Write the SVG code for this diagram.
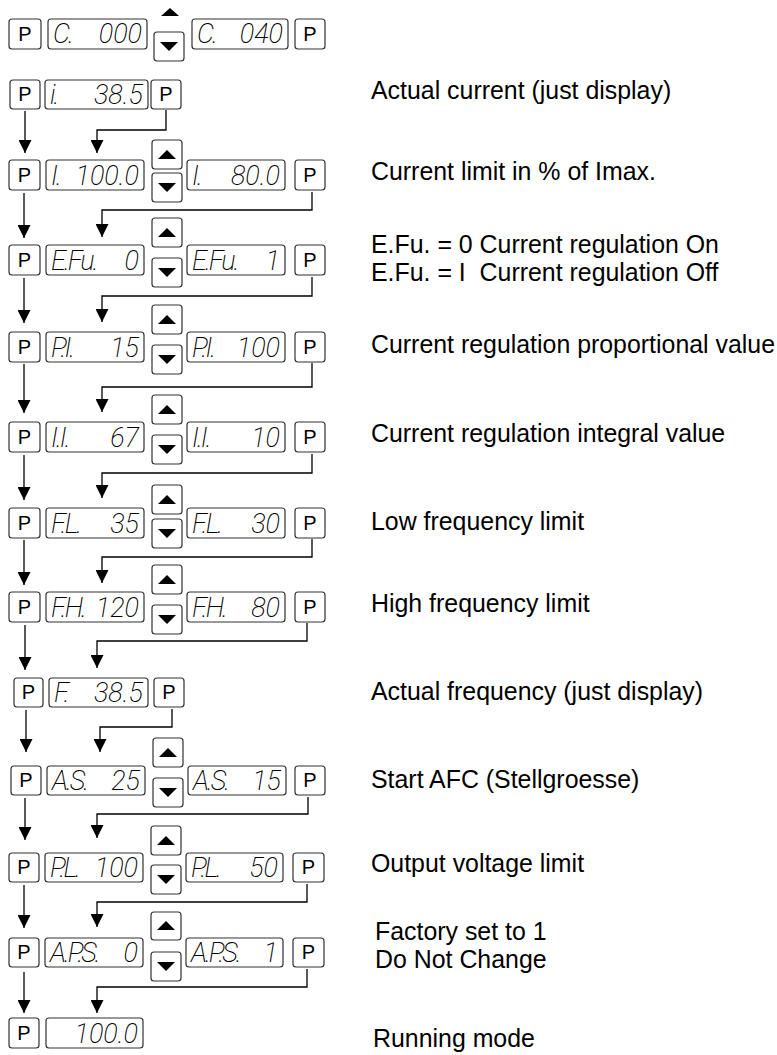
<svg xmlns="http://www.w3.org/2000/svg" width="777" height="1055" viewBox="0 0 777 1055">
<style>
.box{fill:#fff;stroke:#333;stroke-width:1.2}
.pt{font-family:"Liberation Sans",Arial,sans-serif;font-size:20px;text-anchor:middle;fill:#000}
.seg{font-family:Roboto,Inter,"Liberation Sans",sans-serif;font-weight:200;font-style:italic;font-size:27px;letter-spacing:-2px;fill:#000}
.end{text-anchor:end;letter-spacing:0}
.lbl{font-family:"Liberation Sans",Arial,sans-serif;font-size:24.9px;fill:#000;white-space:pre}
.conn{fill:none;stroke:#000;stroke-width:1.3}
.tri{fill:#000}
</style>
<defs>
<marker id="arr" markerUnits="userSpaceOnUse" markerWidth="13" markerHeight="13" refX="13" refY="6.5" orient="auto">
<path d="M0,0 L13,6.5 L0,13 z" fill="#000"/>
</marker>
</defs>

<!-- Row 1 -->
<g id="r1-p1"><rect class="box" x="9" y="19" width="32" height="30" rx="3"/><text class="pt" x="25" y="41">P</text></g>
<g id="r1-d1"><rect class="box" x="48" y="19" width="99" height="30" rx="3"/><text class="seg" x="53" y="43">C.</text><text class="seg end" x="142" y="43">000</text></g>
<g id="r1-up"><polygon class="tri" points="161,16 179,16 170,8"/></g>
<g id="r1-down"><rect class="box" x="154" y="32" width="30" height="29" rx="3"/><polygon class="tri" points="160,42 178,42 169,51"/></g>
<g id="r1-d2"><rect class="box" x="192" y="19" width="96" height="30" rx="3"/><text class="seg" x="197" y="43">C.</text><text class="seg end" x="283" y="43">040</text></g>
<g id="r1-p2"><rect class="box" x="295" y="19" width="30" height="30" rx="3"/><text class="pt" x="310" y="41">P</text></g>

<!-- Row 2 -->
<g id="r2-p1"><rect class="box" x="10" y="80" width="30" height="29" rx="3"/><text class="pt" x="25" y="101">P</text></g>
<g id="r2-d1"><rect class="box" x="45" y="80" width="103" height="29" rx="3"/><text class="seg" x="50" y="104">i.</text><text class="seg end" x="143" y="104">38.5</text></g>
<g id="r2-p2"><rect class="box" x="151" y="80" width="30" height="29" rx="3"/><text class="pt" x="166" y="101">P</text></g>
<g id="r2-label"><text class="lbl" x="371" y="99">Actual current (just display)</text></g>

<!-- Row 3 -->
<g id="r3-p1"><rect class="box" x="9" y="160" width="31" height="30" rx="3"/><text class="pt" x="24.5" y="182">P</text></g>
<g id="r3-d1"><rect class="box" x="46" y="160" width="98" height="30" rx="3"/><text class="seg" x="51" y="185">I.</text><text class="seg end" x="139" y="185">100.0</text></g>
<g id="r3-up"><rect class="box" x="152" y="140" width="30" height="29" rx="3"/><polygon class="tri" points="158,159 176,159 167,150"/></g>
<g id="r3-down"><rect class="box" x="152" y="173" width="30" height="29" rx="3"/><polygon class="tri" points="158,183 176,183 167,192"/></g>
<g id="r3-d2"><rect class="box" x="187" y="160" width="98" height="30" rx="3"/><text class="seg" x="192" y="185">I.</text><text class="seg end" x="280" y="185">80.0</text></g>
<g id="r3-p2"><rect class="box" x="295" y="160" width="30" height="30" rx="3"/><text class="pt" x="310" y="182">P</text></g>
<g id="r3-label"><text class="lbl" x="371" y="180">Current limit in % of Imax.</text></g>

<!-- Row 4 -->
<g id="r4-p1"><rect class="box" x="9" y="245" width="31" height="30" rx="3"/><text class="pt" x="24.5" y="267">P</text></g>
<g id="r4-d1"><rect class="box" x="46" y="245" width="98" height="30" rx="3"/><text class="seg" x="51" y="270">E.Fu.</text><text class="seg end" x="139" y="270">0</text></g>
<g id="r4-up"><rect class="box" x="152" y="218" width="30" height="29" rx="3"/><polygon class="tri" points="158,237 176,237 167,228"/></g>
<g id="r4-down"><rect class="box" x="152" y="258" width="30" height="29" rx="3"/><polygon class="tri" points="158,268 176,268 167,277"/></g>
<g id="r4-d2"><rect class="box" x="187" y="245" width="98" height="30" rx="3"/><text class="seg" x="192" y="270">E.Fu.</text><text class="seg end" x="280" y="270">1</text></g>
<g id="r4-p2"><rect class="box" x="295" y="245" width="30" height="30" rx="3"/><text class="pt" x="310" y="267">P</text></g>
<g id="r4-label"><text class="lbl" x="371" y="253">E.Fu. = 0 Current regulation On</text><text class="lbl" x="371" y="281">E.Fu. = I  Current regulation Off</text></g>

<!-- Row 5 -->
<g id="r5-p1"><rect class="box" x="9" y="332" width="31" height="30" rx="3"/><text class="pt" x="24.5" y="354">P</text></g>
<g id="r5-d1"><rect class="box" x="46" y="332" width="98" height="30" rx="3"/><text class="seg" x="51" y="357">P.I.</text><text class="seg end" x="139" y="357">15</text></g>
<g id="r5-up"><rect class="box" x="152" y="305" width="30" height="29" rx="3"/><polygon class="tri" points="158,324 176,324 167,315"/></g>
<g id="r5-down"><rect class="box" x="152" y="345" width="30" height="29" rx="3"/><polygon class="tri" points="158,355 176,355 167,364"/></g>
<g id="r5-d2"><rect class="box" x="187" y="332" width="98" height="30" rx="3"/><text class="seg" x="192" y="357">P.I.</text><text class="seg end" x="280" y="357">100</text></g>
<g id="r5-p2"><rect class="box" x="295" y="332" width="30" height="30" rx="3"/><text class="pt" x="310" y="354">P</text></g>
<g id="r5-label"><text class="lbl" x="371" y="353">Current regulation proportional value</text></g>

<!-- Row 6 -->
<g id="r6-p1"><rect class="box" x="9" y="422" width="31" height="30" rx="3"/><text class="pt" x="24.5" y="444">P</text></g>
<g id="r6-d1"><rect class="box" x="46" y="422" width="98" height="30" rx="3"/><text class="seg" x="51" y="447">I.I.</text><text class="seg end" x="139" y="447">67</text></g>
<g id="r6-up"><rect class="box" x="152" y="395" width="30" height="29" rx="3"/><polygon class="tri" points="158,414 176,414 167,405"/></g>
<g id="r6-down"><rect class="box" x="152" y="435" width="30" height="29" rx="3"/><polygon class="tri" points="158,445 176,445 167,454"/></g>
<g id="r6-d2"><rect class="box" x="187" y="422" width="98" height="30" rx="3"/><text class="seg" x="192" y="447">I.I.</text><text class="seg end" x="280" y="447">10</text></g>
<g id="r6-p2"><rect class="box" x="295" y="422" width="30" height="30" rx="3"/><text class="pt" x="310" y="444">P</text></g>
<g id="r6-label"><text class="lbl" x="371" y="442">Current regulation integral value</text></g>

<!-- Row 7 -->
<g id="r7-p1"><rect class="box" x="9" y="508" width="31" height="30" rx="3"/><text class="pt" x="24.5" y="530">P</text></g>
<g id="r7-d1"><rect class="box" x="46" y="508" width="98" height="30" rx="3"/><text class="seg" x="51" y="533">F.L.</text><text class="seg end" x="139" y="533">35</text></g>
<g id="r7-up"><rect class="box" x="152" y="485" width="30" height="29" rx="3"/><polygon class="tri" points="158,504 176,504 167,495"/></g>
<g id="r7-down"><rect class="box" x="152" y="519" width="30" height="29" rx="3"/><polygon class="tri" points="158,529 176,529 167,538"/></g>
<g id="r7-d2"><rect class="box" x="187" y="508" width="98" height="30" rx="3"/><text class="seg" x="192" y="533">F.L.</text><text class="seg end" x="280" y="533">30</text></g>
<g id="r7-p2"><rect class="box" x="295" y="508" width="30" height="30" rx="3"/><text class="pt" x="310" y="530">P</text></g>
<g id="r7-label"><text class="lbl" x="371" y="530">Low frequency limit</text></g>

<!-- Row 8 -->
<g id="r8-p1"><rect class="box" x="9" y="592" width="31" height="30" rx="3"/><text class="pt" x="24.5" y="614">P</text></g>
<g id="r8-d1"><rect class="box" x="46" y="592" width="98" height="30" rx="3"/><text class="seg" x="51" y="617">F.H.</text><text class="seg end" x="139" y="617">120</text></g>
<g id="r8-up"><rect class="box" x="152" y="565" width="30" height="29" rx="3"/><polygon class="tri" points="158,584 176,584 167,575"/></g>
<g id="r8-down"><rect class="box" x="152" y="605" width="30" height="29" rx="3"/><polygon class="tri" points="158,615 176,615 167,624"/></g>
<g id="r8-d2"><rect class="box" x="187" y="592" width="98" height="30" rx="3"/><text class="seg" x="192" y="617">F.H.</text><text class="seg end" x="280" y="617">80</text></g>
<g id="r8-p2"><rect class="box" x="295" y="592" width="30" height="30" rx="3"/><text class="pt" x="310" y="614">P</text></g>
<g id="r8-label"><text class="lbl" x="371" y="612">High frequency limit</text></g>

<!-- Row 9 -->
<g id="r9-p1"><rect class="box" x="14" y="678" width="29" height="29" rx="3"/><text class="pt" x="28.5" y="699">P</text></g>
<g id="r9-d1"><rect class="box" x="49" y="678" width="99" height="29" rx="3"/><text class="seg" x="54" y="702">F.</text><text class="seg end" x="143" y="702">38.5</text></g>
<g id="r9-p2"><rect class="box" x="154" y="678" width="30" height="29" rx="3"/><text class="pt" x="169" y="699">P</text></g>
<g id="r9-label"><text class="lbl" x="371" y="700">Actual frequency (just display)</text></g>

<!-- Row 10 -->
<g id="r10-p1"><rect class="box" x="11" y="766" width="30" height="29" rx="3"/><text class="pt" x="26" y="787">P</text></g>
<g id="r10-d1"><rect class="box" x="47" y="766" width="98" height="29" rx="3"/><text class="seg" x="52" y="790">A.S.</text><text class="seg end" x="140" y="790">25</text></g>
<g id="r10-up"><rect class="box" x="153" y="738" width="30" height="29" rx="3"/><polygon class="tri" points="159,757 177,757 168,748"/></g>
<g id="r10-down"><rect class="box" x="153" y="778" width="30" height="29" rx="3"/><polygon class="tri" points="159,788 177,788 168,797"/></g>
<g id="r10-d2"><rect class="box" x="188" y="766" width="98" height="29" rx="3"/><text class="seg" x="193" y="790">A.S.</text><text class="seg end" x="281" y="790">15</text></g>
<g id="r10-p2"><rect class="box" x="295" y="766" width="30" height="29" rx="3"/><text class="pt" x="310" y="787">P</text></g>
<g id="r10-label"><text class="lbl" x="371" y="788">Start AFC (Stellgroesse)</text></g>

<!-- Row 11 -->
<g id="r11-p1"><rect class="box" x="9" y="853" width="30" height="29" rx="3"/><text class="pt" x="24" y="874">P</text></g>
<g id="r11-d1"><rect class="box" x="45" y="853" width="98" height="29" rx="3"/><text class="seg" x="50" y="877">P.L.</text><text class="seg end" x="138" y="877">100</text></g>
<g id="r11-up"><rect class="box" x="151" y="826" width="30" height="29" rx="3"/><polygon class="tri" points="157,845 175,845 166,836"/></g>
<g id="r11-down"><rect class="box" x="151" y="865" width="30" height="29" rx="3"/><polygon class="tri" points="157,875 175,875 166,884"/></g>
<g id="r11-d2"><rect class="box" x="186" y="853" width="97" height="29" rx="3"/><text class="seg" x="191" y="877">P.L.</text><text class="seg end" x="278" y="877">50</text></g>
<g id="r11-p2"><rect class="box" x="293" y="853" width="31" height="29" rx="3"/><text class="pt" x="308.5" y="874">P</text></g>
<g id="r11-label"><text class="lbl" x="371" y="872">Output voltage limit</text></g>

<!-- Row 12 -->
<g id="r12-p1"><rect class="box" x="9" y="938" width="30" height="29" rx="3"/><text class="pt" x="24" y="959">P</text></g>
<g id="r12-d1"><rect class="box" x="45" y="938" width="98" height="29" rx="3"/><text class="seg" x="50" y="962">A.P.S.</text><text class="seg end" x="138" y="962">0</text></g>
<g id="r12-up"><rect class="box" x="151" y="912" width="30" height="28" rx="3"/><polygon class="tri" points="157,930 175,930 166,921"/></g>
<g id="r12-down"><rect class="box" x="151" y="952" width="30" height="29" rx="3"/><polygon class="tri" points="157,962 175,962 166,971"/></g>
<g id="r12-d2"><rect class="box" x="186" y="938" width="97" height="29" rx="3"/><text class="seg" x="191" y="962">A.P.S.</text><text class="seg end" x="278" y="962">1</text></g>
<g id="r12-p2"><rect class="box" x="293" y="938" width="31" height="29" rx="3"/><text class="pt" x="308.5" y="959">P</text></g>
<g id="r12-label"><text class="lbl" x="375" y="940">Factory set to 1</text><text class="lbl" x="375" y="968">Do Not Change</text></g>

<!-- Row 13 -->
<g id="r13-p1"><rect class="box" x="9" y="1018" width="30" height="30" rx="3"/><text class="pt" x="24" y="1040">P</text></g>
<g id="r13-d1"><rect class="box" x="46" y="1018" width="97" height="30" rx="3"/><text class="seg end" x="138" y="1043">100.0</text></g>
<g id="r13-label"><text class="lbl" x="373" y="1047">Running mode</text></g>

<!-- Connectors -->
<g id="connectors" class="conn" marker-end="url(#arr)">
<path d="M25,111 V153"/>
<path d="M24,193 V238"/>
<path d="M24,278 V323"/>
<path d="M24,364 V413"/>
<path d="M24,455 V500"/>
<path d="M24,540 V585"/>
<path d="M25,625 V670"/>
<path d="M26,710 V752"/>
<path d="M25,798 V840"/>
<path d="M24,885 V928"/>
<path d="M24,972 V1013"/>
<path d="M166,110 V130 H97 V153"/>
<path d="M312,192 V210 H102 V237"/>
<path d="M312,277 V296 H102 V322"/>
<path d="M312,363 V387 H102 V412"/>
<path d="M312,454 V473 H102 V498"/>
<path d="M312,539 V557 H102 V583"/>
<path d="M307,623 V641 H97 V668"/>
<path d="M172,709 V727 H100 V752"/>
<path d="M308,797 V814 H97 V838"/>
<path d="M307,884 V902 H97 V927"/>
<path d="M307,969 V987 H97 V1013"/>
</g>
</svg>
